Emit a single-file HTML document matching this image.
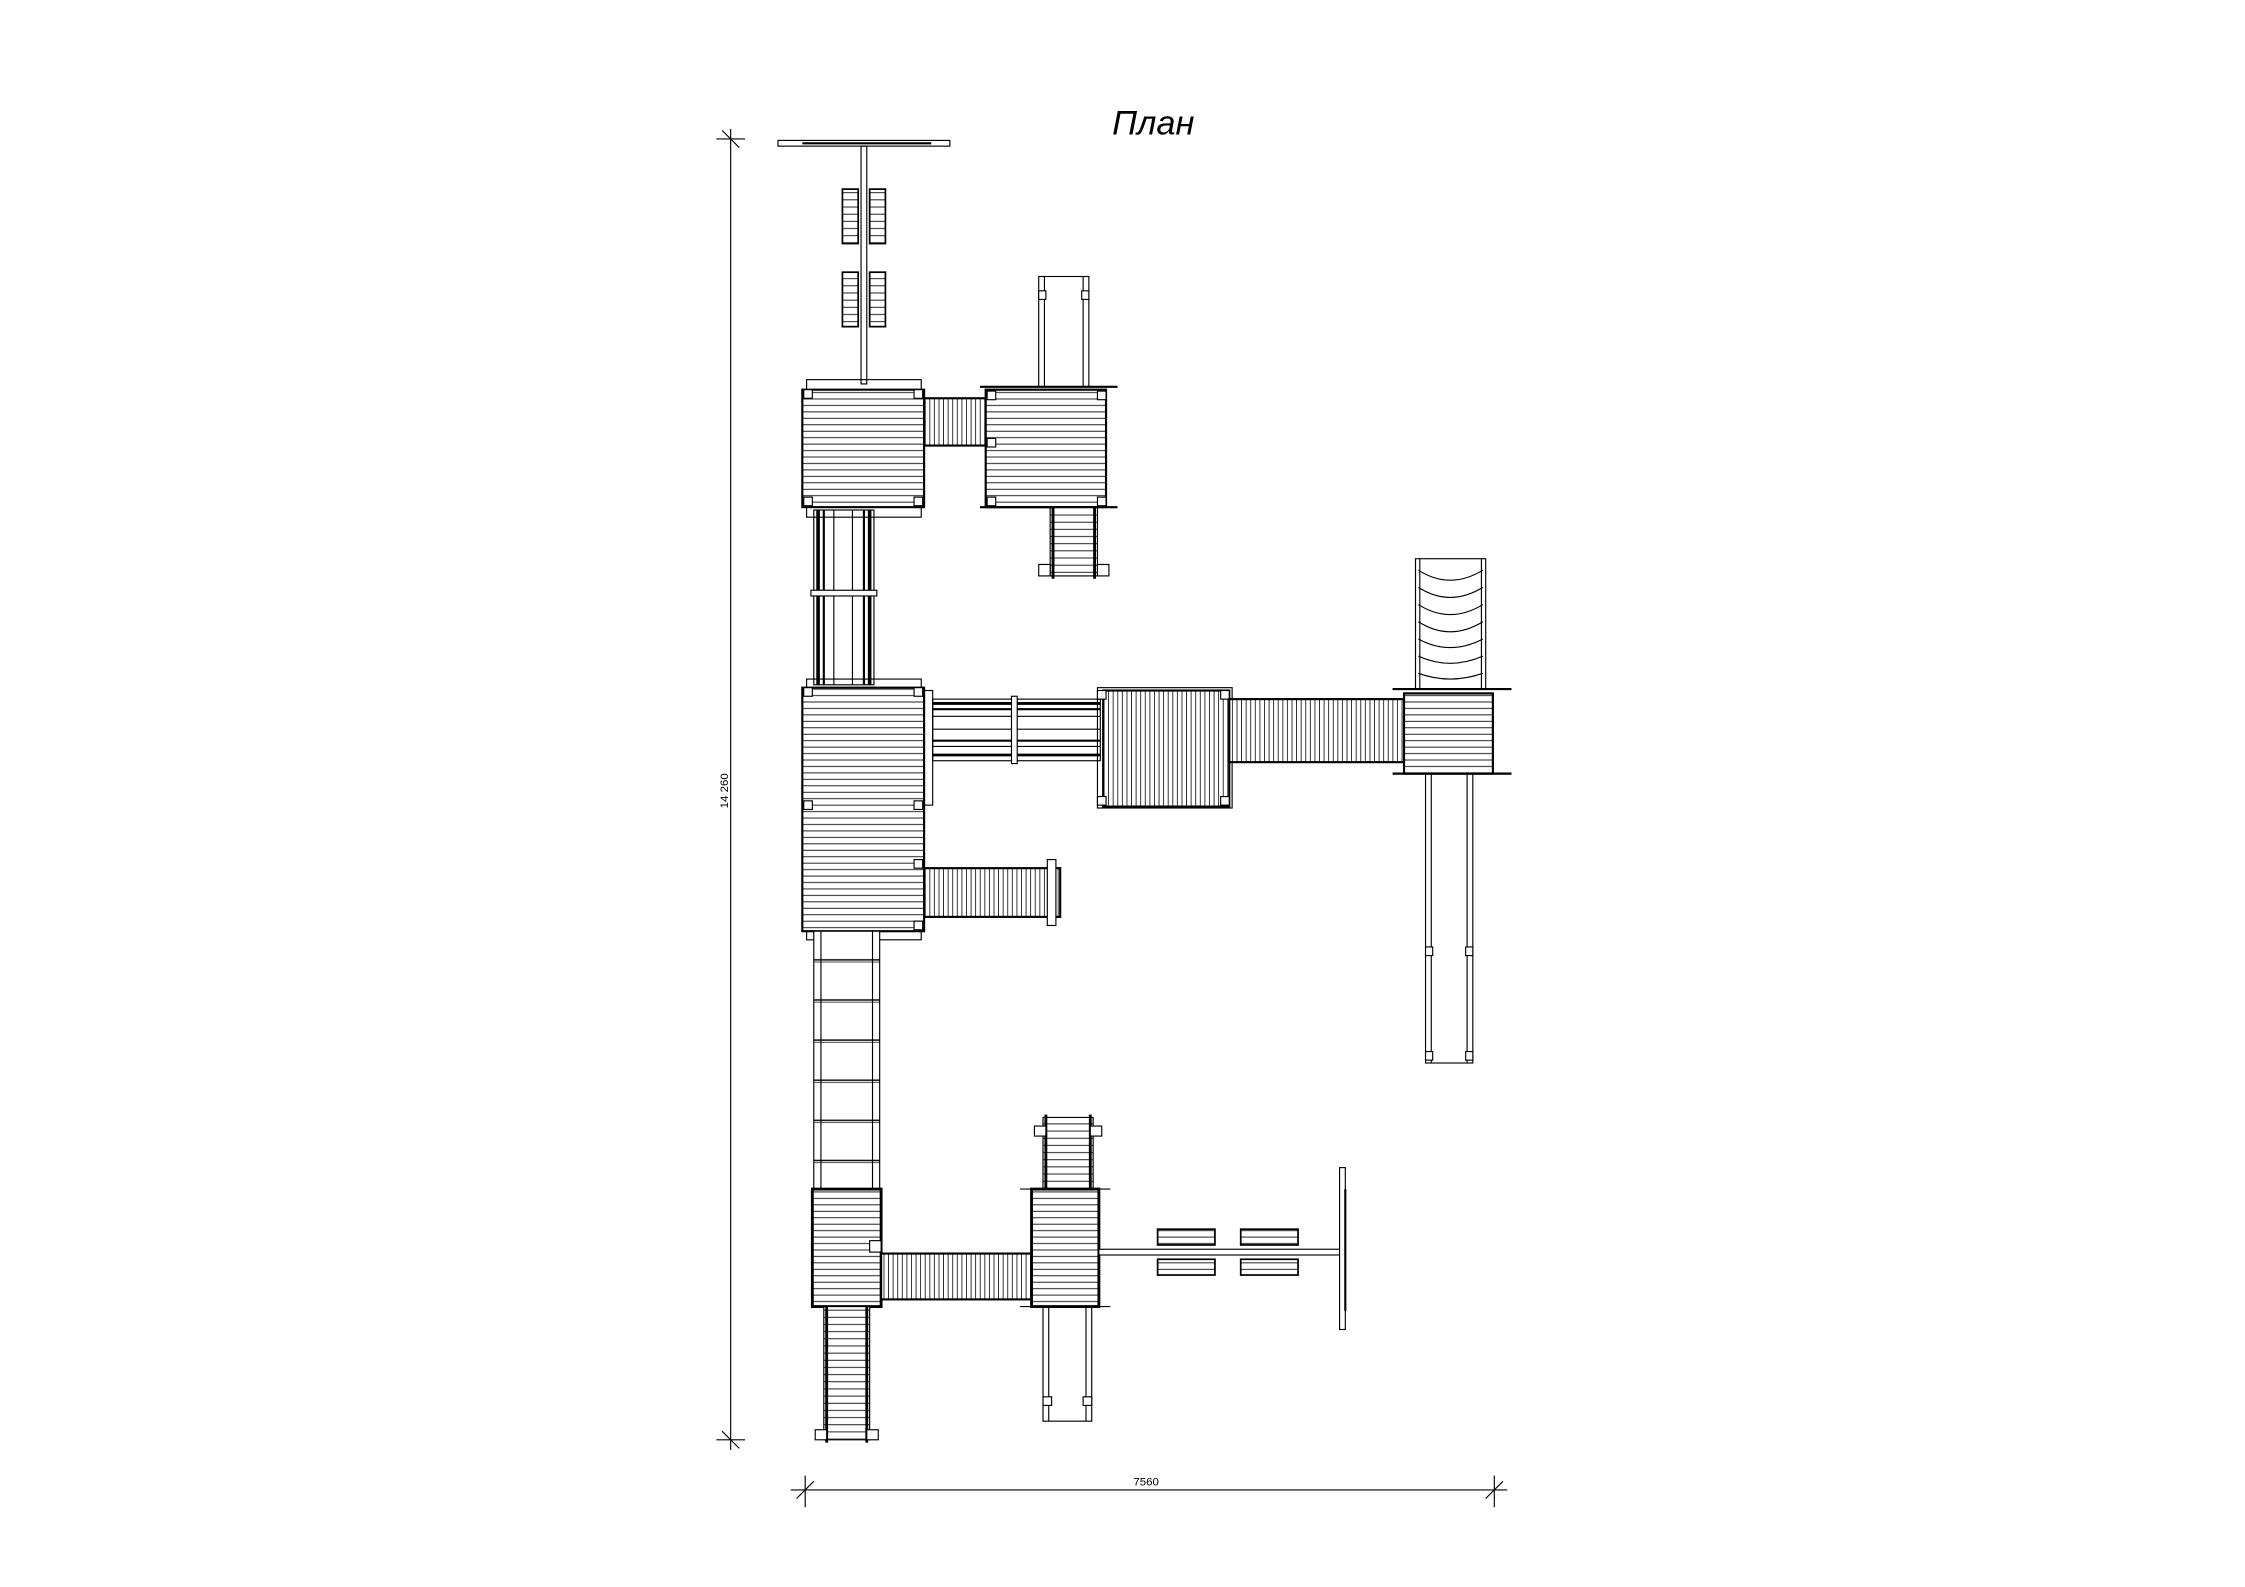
<!DOCTYPE html>
<html><head><meta charset="utf-8"><style>html,body{margin:0;padding:0;background:#fff}svg{display:block}</style></head>
<body>
<svg width="2245" height="1587" viewBox="0 0 1556 1100" preserveAspectRatio="none" xmlns="http://www.w3.org/2000/svg">
<defs>
<pattern id="h" width="6" height="4.5" patternUnits="userSpaceOnUse"><rect width="6" height="4.5" fill="#fff"/><line x1="0" y1="4" x2="6" y2="4" stroke="#000" stroke-width="0.6"/></pattern>
<pattern id="v" width="3.2" height="6" patternUnits="userSpaceOnUse"><rect width="3.2" height="6" fill="#fff"/><line x1="2.6" y1="0" x2="2.6" y2="6" stroke="#000" stroke-width="0.55"/></pattern>
<pattern id="r" width="6" height="28" patternUnits="userSpaceOnUse"><rect width="6" height="28" fill="#fff"/><line x1="0" y1="26" x2="6" y2="26" stroke="#000" stroke-width="1"/><line x1="0" y1="27.5" x2="6" y2="27.5" stroke="#000" stroke-width="0.5"/></pattern>
<pattern id="s" width="6" height="5" patternUnits="userSpaceOnUse"><rect width="6" height="5" fill="#fff"/><line x1="0" y1="4.5" x2="6" y2="4.5" stroke="#000" stroke-width="0.6"/></pattern>
</defs>
<g fill="none" stroke="#000" stroke-width="0.8" transform="scale(0.993)">
<!-- title -->
<text x="805" y="94" font-family="Liberation Sans, sans-serif" font-style="italic" font-size="24" text-anchor="middle" fill="#000" stroke="none">План</text>
<!-- vertical dim -->
<line x1="510" y1="90" x2="510" y2="1012"/>
<line x1="500" y1="97" x2="520" y2="97"/><line x1="504" y1="91" x2="516" y2="103"/>
<line x1="500" y1="1005" x2="520" y2="1005"/><line x1="504" y1="999" x2="516" y2="1011"/>
<text x="0" y="0" transform="translate(508,552) rotate(-90)" font-family="Liberation Sans, sans-serif" font-size="8" text-anchor="middle" fill="#000" stroke="none">14 260</text>
<!-- horizontal dim -->
<line x1="552" y1="1040" x2="1052" y2="1040"/>
<line x1="562" y1="1030" x2="562" y2="1052"/><line x1="556" y1="1046" x2="568" y2="1034"/>
<line x1="1043" y1="1030" x2="1043" y2="1052"/><line x1="1037" y1="1046" x2="1049" y2="1034"/>
<text x="800" y="1037" font-family="Liberation Sans, sans-serif" font-size="8" text-anchor="middle" fill="#000" stroke="none">7560</text>

<!-- top swing -->
<rect x="543" y="98" width="120" height="4"/><line x1="560" y1="100" x2="650" y2="100" stroke-width="1.5"/>
<rect x="601" y="102" width="4" height="166"/>
<rect x="588" y="132" width="11" height="38" fill="url(#s)" stroke-width="1.2"/><rect x="607" y="132" width="11" height="38" fill="url(#s)" stroke-width="1.2"/>
<rect x="588" y="190" width="11" height="38" fill="url(#s)" stroke-width="1.2"/><rect x="607" y="190" width="11" height="38" fill="url(#s)" stroke-width="1.2"/>

<!-- tower1 -->
<rect x="563" y="265" width="80" height="96"/>
<rect x="560" y="272" width="85" height="82" fill="url(#h)" stroke-width="1.5"/>
<rect x="561" y="272" width="6" height="6" fill="#fff"/><rect x="638" y="272" width="6" height="6" fill="#fff"/><rect x="561" y="347" width="6" height="6" fill="#fff"/><rect x="638" y="347" width="6" height="6" fill="#fff"/>
<!-- bridge1 -->
<rect x="645" y="278" width="43" height="33" fill="url(#v)" stroke-width="1.5"/>
<!-- tower2 -->
<rect x="725" y="193" width="35" height="77"/><line x1="729" y1="193" x2="729" y2="270"/><line x1="756" y1="193" x2="756" y2="270"/>
<rect x="725" y="203" width="5" height="6" fill="#fff"/><rect x="755" y="203" width="5" height="6" fill="#fff"/>
<rect x="688" y="272" width="84" height="82" fill="url(#h)" stroke-width="1.5"/>
<line x1="684" y1="270" x2="780" y2="270" stroke-width="1.5"/><line x1="684" y1="354" x2="780" y2="354" stroke-width="1.5"/>
<rect x="689" y="273" width="6" height="6" fill="#fff"/><rect x="766" y="273" width="6" height="6" fill="#fff"/><rect x="689" y="347" width="6" height="6" fill="#fff"/><rect x="766" y="347" width="6" height="6" fill="#fff"/><rect x="689" y="306" width="6" height="6" fill="#fff"/>
<rect x="733" y="354" width="33" height="48" fill="url(#s)"/><line x1="735" y1="354" x2="735" y2="404" stroke-width="2"/><line x1="764" y1="354" x2="764" y2="404" stroke-width="2"/>
<rect x="725" y="394" width="8" height="8" fill="#fff"/><rect x="766" y="394" width="8" height="8" fill="#fff"/>

<!-- vertical ladder between t1 and t3 -->
<rect x="568" y="356" width="42" height="122"/>
<line x1="571" y1="356" x2="571" y2="478" stroke-width="2.5"/><line x1="575" y1="356" x2="575" y2="478" stroke-width="1.5"/>
<line x1="603" y1="356" x2="603" y2="478" stroke-width="1.5"/><line x1="607" y1="356" x2="607" y2="478" stroke-width="2.5"/>
<line x1="582" y1="356" x2="582" y2="478"/><line x1="595" y1="356" x2="595" y2="478"/>
<rect x="566" y="412" width="46" height="4" fill="#fff"/>

<!-- tower3 -->
<rect x="563" y="474" width="80" height="182"/>
<rect x="560" y="480" width="85" height="170" fill="url(#h)" stroke-width="1.5"/>
<rect x="645" y="482" width="6" height="80" />
<rect x="561" y="480" width="6" height="6" fill="#fff"/><rect x="638" y="480" width="6" height="6" fill="#fff"/><rect x="561" y="559" width="6" height="6" fill="#fff"/><rect x="638" y="559" width="6" height="6" fill="#fff"/><rect x="638" y="600" width="6" height="6" fill="#fff"/><rect x="638" y="643" width="6" height="6" fill="#fff"/>
<!-- bridge to middle box -->
<rect x="651" y="488" width="117" height="43"/>
<line x1="651" y1="491" x2="768" y2="491" stroke-width="2"/><line x1="651" y1="495" x2="768" y2="495" stroke-width="1.5"/><line x1="651" y1="500" x2="768" y2="500"/><line x1="651" y1="509" x2="768" y2="509"/><line x1="651" y1="517" x2="768" y2="517" stroke-width="1.5"/><line x1="651" y1="521" x2="768" y2="521"/><line x1="651" y1="527" x2="768" y2="527" stroke-width="2"/>
<rect x="706" y="486" width="4" height="47" fill="#fff"/>
<!-- middle box -->
<rect x="766" y="480" width="94" height="84"/>
<rect x="770" y="482" width="88" height="81" fill="url(#v)" stroke-width="1.5"/>
<rect x="766" y="482" width="6" height="6" fill="#fff"/><rect x="852" y="482" width="6" height="6" fill="#fff"/><rect x="766" y="556" width="6" height="6" fill="#fff"/><rect x="852" y="556" width="6" height="6" fill="#fff"/>
<!-- bridge -->
<rect x="858" y="488" width="122" height="44" fill="url(#v)" stroke-width="1.5"/>
<!-- tower4 -->
<rect x="988" y="390" width="49" height="91" fill="#fff"/>
<g stroke-width="0.8"><path d="M990 398 Q1012 412 1035 398"/><path d="M990 410 Q1012 424 1035 410"/><path d="M990 422 Q1012 436 1035 422"/><path d="M990 434 Q1012 448 1035 434"/><path d="M990 446 Q1012 458 1035 446"/><path d="M990 458 Q1012 468 1035 458"/><path d="M990 470 Q1012 478 1035 470"/></g>
<line x1="991" y1="390" x2="991" y2="481"/><line x1="1034" y1="390" x2="1034" y2="481"/>
<rect x="980" y="484" width="62" height="56" fill="url(#h)" stroke-width="1.5"/>
<line x1="972" y1="481" x2="1055" y2="481" stroke-width="1.5"/><line x1="972" y1="540" x2="1055" y2="540" stroke-width="1.5"/>
<rect x="995" y="540" width="33" height="202"/><line x1="999" y1="540" x2="999" y2="742"/><line x1="1024" y1="540" x2="1024" y2="742"/>
<rect x="995" y="661" width="5" height="6" fill="#fff"/><rect x="1023" y="661" width="5" height="6" fill="#fff"/><rect x="995" y="734" width="5" height="6" fill="#fff"/><rect x="1023" y="734" width="5" height="6" fill="#fff"/>
<!-- stair from tower3 right -->
<rect x="645" y="606" width="95" height="34" fill="url(#v)" stroke-width="1.5"/>
<rect x="731" y="600" width="6" height="46" fill="#fff"/>

<!-- long ladder -->
<rect x="568" y="650" width="46" height="180" fill="url(#r)"/>
<line x1="573" y1="650" x2="573" y2="830"/><line x1="609" y1="650" x2="609" y2="830"/>
<!-- tower5 -->
<rect x="567" y="830" width="48" height="82" fill="url(#h)" stroke-width="2"/>
<rect x="575" y="912" width="32" height="93" fill="url(#s)"/><line x1="577" y1="912" x2="577" y2="1007" stroke-width="2"/><line x1="605" y1="912" x2="605" y2="1007" stroke-width="2"/>
<rect x="569" y="998" width="8" height="7" fill="#fff"/><rect x="605" y="998" width="8" height="7" fill="#fff"/>
<!-- bridge 5-6 -->
<rect x="615" y="875" width="105" height="32" fill="url(#v)" stroke-width="1.5"/>
<rect x="607" y="866" width="8" height="8" fill="#fff"/>
<!-- tower6 -->
<rect x="728" y="780" width="35" height="52" fill="url(#s)"/><line x1="730" y1="778" x2="730" y2="832" stroke-width="2"/><line x1="761" y1="778" x2="761" y2="832" stroke-width="2"/>
<rect x="722" y="786" width="8" height="7" fill="#fff"/><rect x="761" y="786" width="8" height="7" fill="#fff"/>
<rect x="720" y="830" width="47" height="82" fill="url(#h)" stroke-width="2"/>
<line x1="712" y1="830" x2="775" y2="830"/><line x1="712" y1="912" x2="775" y2="912"/>
<rect x="728" y="912" width="34" height="80"/><line x1="732" y1="912" x2="732" y2="992"/><line x1="758" y1="912" x2="758" y2="992"/>
<rect x="728" y="975" width="6" height="6" fill="#fff"/><rect x="756" y="975" width="6" height="6" fill="#fff"/>
<!-- right swing -->
<rect x="767" y="872" width="170" height="4" fill="#fff"/>
<rect x="808" y="858" width="40" height="11" fill="url(#h)" stroke-width="1.2"/><rect x="808" y="879" width="40" height="11" fill="url(#h)" stroke-width="1.2"/>
<rect x="866" y="858" width="40" height="11" fill="url(#h)" stroke-width="1.2"/><rect x="866" y="879" width="40" height="11" fill="url(#h)" stroke-width="1.2"/>
<rect x="935" y="815" width="4" height="113" fill="#fff"/><line x1="939" y1="830" x2="939" y2="915" stroke-width="1.5"/>
</g>
</svg>
</body></html>
